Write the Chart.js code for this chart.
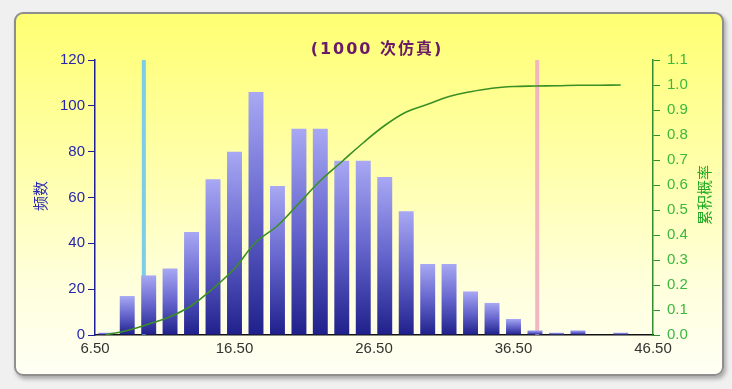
<!DOCTYPE html>
<html>
<head>
<meta charset="utf-8">
<script src="https://cdn.jsdelivr.net/npm/chart.js@4.4.0/dist/chart.umd.min.js"></script>
<style>
  html, body { margin: 0; padding: 0; background: #f0f0f0; }
  #wrap { position: relative; width: 732px; height: 389px; overflow: hidden; }
  #panel {
    position: absolute; left: 14px; top: 12px; width: 706px; height: 360px;
    border: 2px solid #8e8e8e; border-radius: 9px;
    background: linear-gradient(to bottom, #ffff72 0%, #ffffa8 40%, #ffffdc 75%, #fffff4 100%);
    box-shadow: 2px 3px 4px rgba(0,0,0,0.3);
  }
  #chart { position: absolute; left: 0; top: 0; }
</style>
</head>
<body>
<div id="wrap">
  <div id="panel"></div>
  <canvas id="chart" width="732" height="389"></canvas>
</div>
<script>
  // histogram bins (centre of each bin) and counts out of 1000 runs
  const binCenters = [7.27, 8.81, 10.35, 11.88, 13.42, 14.96, 16.50, 18.04, 19.58, 21.12,
                      22.65, 24.19, 25.73, 27.27, 28.81, 30.35, 31.88, 33.42, 34.96, 36.50,
                      38.04, 39.58, 41.12, 42.65, 44.19];
  const freq = [1, 17, 26, 29, 45, 68, 80, 106, 65, 90,
                90, 76, 76, 69, 54, 31, 31, 19, 14, 7,
                2, 1, 2, 0, 1];
  const cumProb = [0.001, 0.018, 0.044, 0.073, 0.118, 0.186, 0.266, 0.372, 0.437, 0.527,
                   0.617, 0.693, 0.769, 0.838, 0.892, 0.923, 0.954, 0.973, 0.987, 0.994,
                   0.996, 0.997, 0.999, 0.999, 1.000];

  const xMin = 6.5, xMax = 46.5, xStep = 10;
  const yMax = 120, yStep = 20;
  const y2Max = 1.1, y2Step = 0.1;
  const markerLow = 10.0;
  const markerHigh = 38.2;

  const titleText = '(1000 次仿真)';
  const leftTitle = '频数';
  const rightTitle = '累积概率';

  const FONT = "'Liberation Sans', Arial, sans-serif";

  function barGradient(ctx) {
    const chart = ctx.chart;
    if (ctx.type !== 'data' || !chart.chartArea) return '#6a6ad0';
    const ys = chart.scales.y;
    const top = ys.getPixelForValue(ctx.parsed.y);
    const base = ys.getPixelForValue(0);
    if (base - top < 1) return '#2a2a95';
    const g = chart.ctx.createLinearGradient(0, top, 0, base);
    g.addColorStop(0, '#a8a8f4');
    g.addColorStop(0.5, '#6464cc');
    g.addColorStop(1, '#20208c');
    return g;
  }

  // title + axis titles, drawn on top
  const textPlugin = {
    id: 'texts',
    afterDraw: function(chart) {
      const c = chart.ctx;
      const area = chart.chartArea;
      c.save();
      c.textAlign = 'center';
      c.textBaseline = 'middle';

      c.fillStyle = '#6a1a66';
      c.font = "bold 16px 'DejaVu Sans', 'Noto Sans CJK SC', sans-serif";
      c.letterSpacing = '2px';
      c.fillText(titleText, (area.left + area.right) / 2 + 3, 50);
      c.letterSpacing = '0px';

      c.font = "15px 'Noto Sans CJK SC', sans-serif";
      c.fillStyle = '#2a2ab4';
      c.translate(40, 196);
      c.rotate(-Math.PI / 2);
      c.fillText(leftTitle, 0, 0);
      c.setTransform(1, 0, 0, 1, 0, 0);

      c.fillStyle = '#22aa22';
      c.translate(704, 195);
      c.rotate(-Math.PI / 2);
      c.fillText(rightTitle, 0, 0);
      c.restore();
    }
  };

  const ctx = document.getElementById('chart');
  new Chart(ctx, {
    type: 'bar',
    data: {
      datasets: [
        {
          type: 'line',
          data: binCenters.map(function(x, i) { return { x: x, y: cumProb[i] }; }),
          yAxisID: 'y2',
          borderColor: '#3a8f24',
          borderWidth: 1.6,
          pointRadius: 0,
          tension: 0.4,
          fill: false,
          order: 0
        },
        {
          type: 'bar',
          data: binCenters.map(function(x, i) { return { x: x, y: freq[i] }; }),
          yAxisID: 'y',
          backgroundColor: barGradient,
          borderWidth: 0,
          barPercentage: 0.7,
          categoryPercentage: 1.0,
          order: 1
        },
        {
          type: 'line',
          data: [{ x: markerLow, y: 0 }, { x: markerLow, y: yMax }],
          yAxisID: 'y',
          borderColor: '#7ccde6',
          borderWidth: 4,
          pointRadius: 0,
          fill: false,
          order: 2
        },
        {
          type: 'line',
          data: [{ x: markerHigh, y: 0 }, { x: markerHigh, y: yMax }],
          yAxisID: 'y',
          borderColor: '#f2b6c0',
          borderWidth: 4,
          pointRadius: 0,
          fill: false,
          order: 2
        }
      ]
    },
    options: {
      responsive: false,
      animation: false,
      layout: { padding: { top: 60, left: 0, right: 0, bottom: 0 } },
      plugins: {
        legend: { display: false },
        tooltip: { enabled: false }
      },
      scales: {
        x: {
          type: 'linear',
          min: xMin,
          max: xMax,
          offset: false,
          afterFit: function(s) { s.height = 54; },
          grid: { display: true, drawOnChartArea: false, drawTicks: false, offset: false },
          border: { display: true, color: '#111111', width: 1.5 },
          ticks: {
            stepSize: xStep,
            padding: 5,
            color: '#333333',
            font: { family: FONT, size: 15 },
            callback: function(v) { return v.toFixed(2); }
          }
        },
        y: {
          position: 'left',
          min: 0,
          max: yMax,
          afterFit: function(s) { s.width = 95; },
          grid: { drawOnChartArea: false, drawTicks: true, tickLength: 7, color: '#1e1e98' },
          border: { display: true, color: '#1e1e98', width: 1.5 },
          ticks: {
            stepSize: yStep,
            padding: 3,
            color: '#2626b0',
            font: { family: FONT, size: 15 }
          }
        },
        y2: {
          position: 'right',
          min: 0,
          max: y2Max,
          afterFit: function(s) { s.width = 79; },
          grid: { drawOnChartArea: false, drawTicks: true, tickLength: 7, color: '#2f8f2f' },
          border: { display: true, color: '#2f8f2f', width: 1.5 },
          ticks: {
            stepSize: y2Step,
            padding: 7,
            color: '#3cb83c',
            font: { family: FONT, size: 15 },
            callback: function(v) { return v.toFixed(1); }
          }
        }
      }
    },
    plugins: [textPlugin]
  });
</script>
</body>
</html>
